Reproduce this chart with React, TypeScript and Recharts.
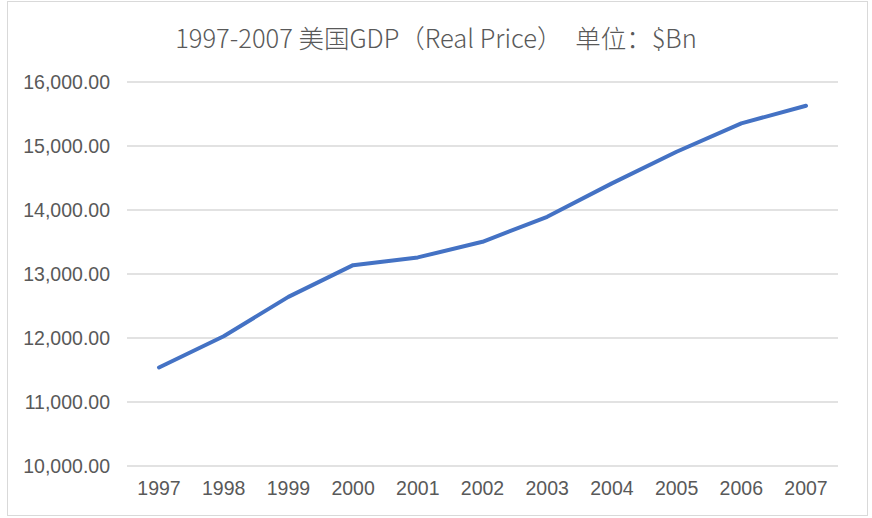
import { CartesianGrid, Line, LineChart, XAxis, YAxis } from "recharts";

const YEARS = ["1997", "1998", "1999", "2000", "2001", "2002", "2003", "2004", "2005", "2006", "2007"];
const GDP = [11539, 12028, 12643, 13138, 13259, 13503, 13894, 14416, 14910, 15354, 15629];
const Y_TICKS = [10000, 11000, 12000, 13000, 14000, 15000, 16000];
const TITLE = "1997-2007 美国GDP（Real Price）　单位：$Bn";

const data = YEARS.map((year, i) => ({ year, gdp: GDP[i] }));

const fmt = (v: number) =>
  v.toLocaleString("en-US", { minimumFractionDigits: 2, maximumFractionDigits: 2 });

export default function App() {
  return (
    <div
      style={{
        position: "absolute",
        left: 0,
        top: 0,
        width: 872,
        height: 518,
        background: "#fff",
        fontFamily: "'Liberation Sans', Arial, sans-serif",
      }}
    >
      <div
        style={{
          position: "absolute",
          left: 7,
          top: 1,
          width: 859,
          height: 513,
          border: "1px solid #d9d9d9",
        }}
      />
      <div
        style={{
          position: "absolute",
          left: 0,
          top: 20,
          width: 872,
          textAlign: "center",
          fontFamily: "'Noto Sans CJK SC', sans-serif",
          fontSize: 25.5,
          fontWeight: 300,
          lineHeight: "34px",
          color: "#595959",
        }}
      >
        {TITLE}
      </div>
      <LineChart
        width={872}
        height={518}
        data={data}
        margin={{ top: 82, right: 34, bottom: 22, left: 7 }}
        style={{ position: "absolute", left: 0, top: 0 }}
      >
        <CartesianGrid vertical={false} stroke="#d9d9d9" strokeWidth={1.5} />
        <XAxis
          dataKey="year"
          height={30}
          axisLine={false}
          tickLine={false}
          tickSize={0}
          tickMargin={15}
          interval={0}
          padding={{ left: 32, right: 32 }}
          tick={{ fill: "#595959", fontSize: 19.5 }}
        />
        <YAxis
          width={120}
          domain={[10000, 16000]}
          ticks={Y_TICKS}
          axisLine={false}
          tickLine={false}
          tickSize={0}
          tickMargin={17}
          tickFormatter={fmt}
          tick={{ fill: "#595959", fontSize: 19.5 }}
        />
        <Line
          type="linear"
          dataKey="gdp"
          stroke="#4472C4"
          strokeWidth={4}
          strokeLinecap="round"
          strokeLinejoin="round"
          dot={false}
          activeDot={false}
          isAnimationActive={false}
        />
      </LineChart>
    </div>
  );
}
